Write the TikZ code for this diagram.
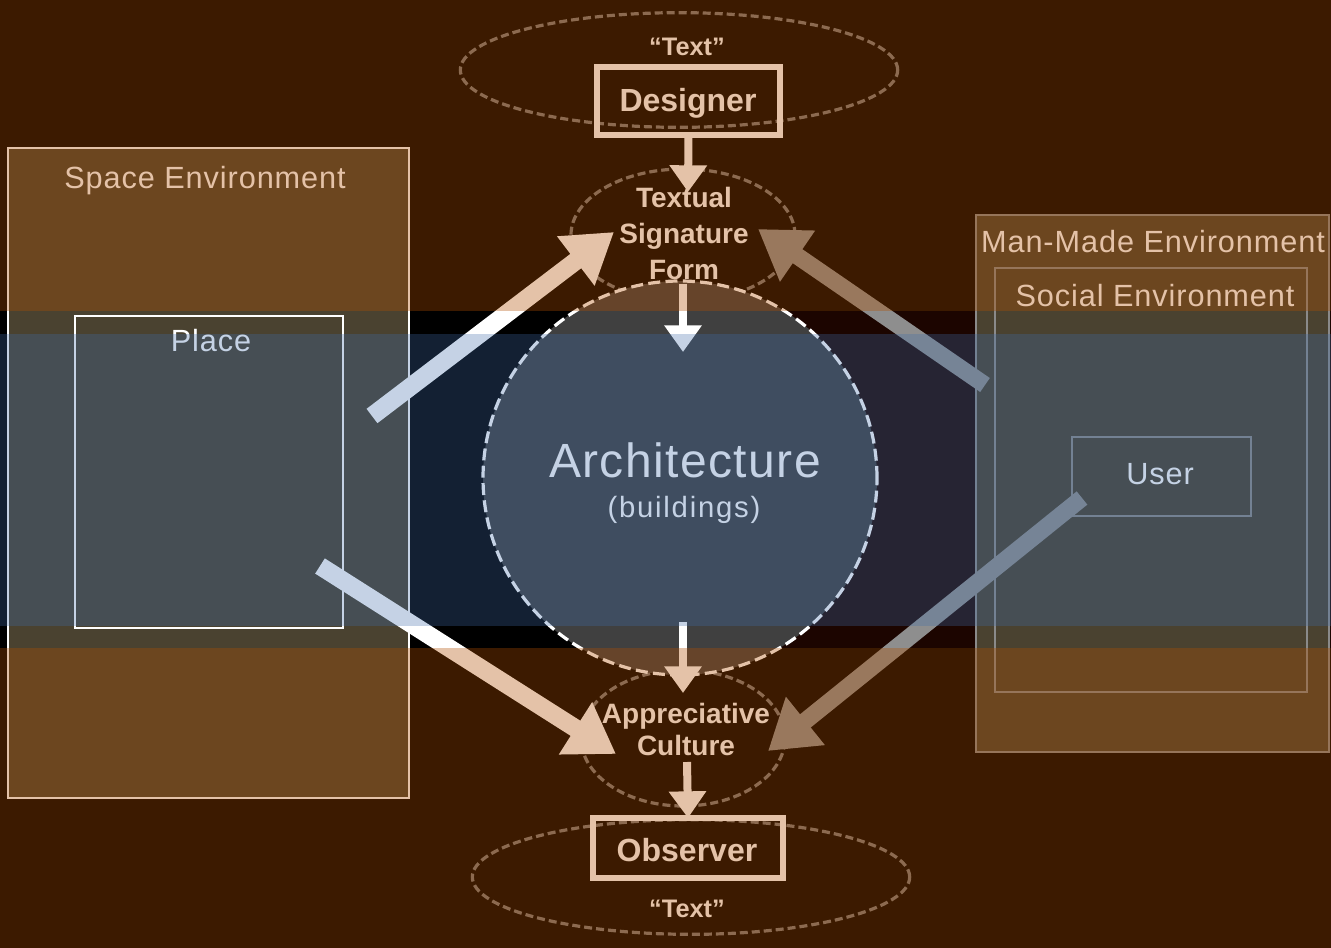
\documentclass[tikz,border=0pt]{standalone}
\usepackage{fontspec}
\setmainfont{Liberation Sans}
\newfontfamily\labfont[LetterSpace=3]{Liberation Sans}
\newfontfamily\widefont[LetterSpace=6]{Liberation Sans}
\usetikzlibrary{arrows.meta,shapes.geometric}
\definecolor{olivebox}{HTML}{4A4230}
\definecolor{orangeov}{HTML}{B04E00}
\definecolor{blueov}{HTML}{3F6DAA}
\definecolor{darkred}{HTML}{1C0500}
\definecolor{circlefill}{HTML}{404040}
\definecolor{grayarrow}{HTML}{8E8E8E}
\definecolor{grayline}{HTML}{8A8A8A}
\definecolor{dashgray}{HTML}{7A7A7A}
\tikzset{
  envbox/.style={draw=white, line width=2pt, fill=olivebox, inner sep=0pt, outer sep=0pt},
  placebox/.style={draw=white, line width=1.6pt, inner sep=0pt, outer sep=0pt},
  grbox/.style={draw=grayline, line width=2.2pt, fill=olivebox, inner sep=0pt, outer sep=0pt},
  grinner/.style={draw=grayline, line width=2pt, inner sep=0pt, outer sep=0pt},
  rolebox/.style={draw=white, line width=4pt, inner sep=0pt, outer sep=0pt},
  dashell/.style={ellipse, draw=dashgray, line width=2.4pt, dash pattern=on 6pt off 3pt, inner sep=0pt, outer sep=0pt},
  envlabel/.style={text=white, font=\labfont\fontsize{23}{26}\selectfont, inner sep=0pt},
  rolelabel/.style={text=white, font=\bfseries\fontsize{24}{28}\selectfont, inner sep=0pt},
  phaselabel/.style={text=white, font=\bfseries\fontsize{21}{27}\selectfont, align=center, inner sep=0pt},
  textlabel/.style={text=white, font=\bfseries\fontsize{19}{22}\selectfont, inner sep=0pt},
  bigwhite/.style={draw=white, line width=13.5pt, -{Triangle[length=36pt,width=44pt]}},
  biggray/.style={draw=grayarrow, line width=12.75pt, -{Triangle[length=36pt,width=44pt]}},
  thinarrow/.style={draw=white, line width=6pt, -{Triangle[length=20pt,width=27pt]}}
}
\begin{document}
\begin{tikzpicture}[x=0.75pt,y=-0.75pt]
\useasboundingbox (0,0) rectangle (1331,948);
\fill[black] (0,0) rectangle (1331,948);
\fill[darkred] (700,311) rectangle (1331,648);

% environment boxes
\node[envbox, minimum width=300.75pt, minimum height=487.5pt] (space) at (208.5,473) {};
\node[placebox, minimum width=201pt, minimum height=234pt] (place) at (209,472) {};
\node[envlabel] (spacelab) at (205,181) {Space Environment};
\node[envlabel] (placelab) at (211,341) {Place};

\node[grbox, minimum width=264.75pt, minimum height=402.75pt] (manmade) at (1152.5,483.5) {};
\node[grinner, minimum width=234pt, minimum height=318pt] (social) at (1151,480) {};
\node[grinner, minimum width=134.25pt, minimum height=59.25pt] (user) at (1161.5,476.5) {};
\node[envlabel] (manlab) at (1153,242) {Man-Made Environment};
\node[envlabel] (soclab) at (1155,296) {Social Environment};
\node[envlabel] (userlab) at (1160,474) {User};

% dashed ellipses
\node[dashell, minimum width=328pt, minimum height=86pt] (topell) at (679,70) {};
\node[dashell, minimum width=168pt, minimum height=99pt] (upell) at (683,235) {};
\node[dashell, minimum width=153pt, minimum height=102pt] (lowell) at (683,738) {};
\node[dashell, minimum width=328pt, minimum height=86pt] (botell) at (691,877) {};

% big arrows
\coordinate (placeUp) at (372,416);
\coordinate (placeDown) at (320,566);
\coordinate (upTipL) at (614,232);
\coordinate (lowTipL) at (616,754);
\coordinate (socialTail) at (985,385);
\coordinate (upTipR) at (758,229);
\coordinate (userTail) at (1082,498);
\coordinate (lowTipR) at (768,751);
\draw[bigwhite] (placeUp) -- (upTipL);
\draw[bigwhite] (placeDown) -- (lowTipL);
\draw[biggray] (socialTail) -- (upTipR);
\draw[biggray] (userTail) -- (lowTipR);

% role boxes
\node[rolebox, minimum width=137.25pt, minimum height=51pt] (designer) at (688.5,101) {};
\node[rolelabel] (designerlab) at (688,103) {Designer};
\node[rolebox, minimum width=142.5pt, minimum height=45pt] (observer) at (688,848) {};
\node[rolelabel] (observerlab) at (687,850) {Observer};
\node[textlabel] (texttop) at (687,47) {“Text”};
\node[textlabel] (textbot) at (687,909) {“Text”};

% central circle
\node[circle, fill=circlefill, draw=white, line width=2.4pt, dash pattern=on 9pt off 4pt, minimum size=295.5pt, inner sep=0pt] (arch) at (680,478) {};
\node[text=white, font=\labfont\fontsize{36}{40}\selectfont, inner sep=0pt] (archlab) at (685,460) {Architecture};
\node[text=white, font=\widefont\fontsize{22}{26}\selectfont, inner sep=0pt] (buildlab) at (684,510) {(buildings)};

% thin arrows
\coordinate (formIn) at (688,192);
\coordinate (formOut) at (683,284);
\coordinate (archIn) at (683,352);
\coordinate (archOut) at (683,622);
\coordinate (cultIn) at (683,693);
\coordinate (cultOut) at (687,762);
\draw[thinarrow] (designer.south) -- (formIn);
\draw[thinarrow] (formOut) -- (archIn);
\draw[thinarrow] (archOut) -- (cultIn);
\draw[thinarrow] (cultOut) -- (observer.north);

% phase texts
\node[phaselabel] (formlab) at (684,233) {Textual\\Signature\\Form};
\node[phaselabel, font=\bfseries\fontsize{21}{24}\selectfont] (cultlab) at (686,729) {Appreciative\\Culture};

% colour overlays
\fill[orangeov, opacity=0.34] (0,0) rectangle (1331,311);
\fill[orangeov, opacity=0.34] (0,648) rectangle (1331,948);
\fill[blueov, opacity=0.3] (0,334) rectangle (1331,626);
\end{tikzpicture}
\end{document}
